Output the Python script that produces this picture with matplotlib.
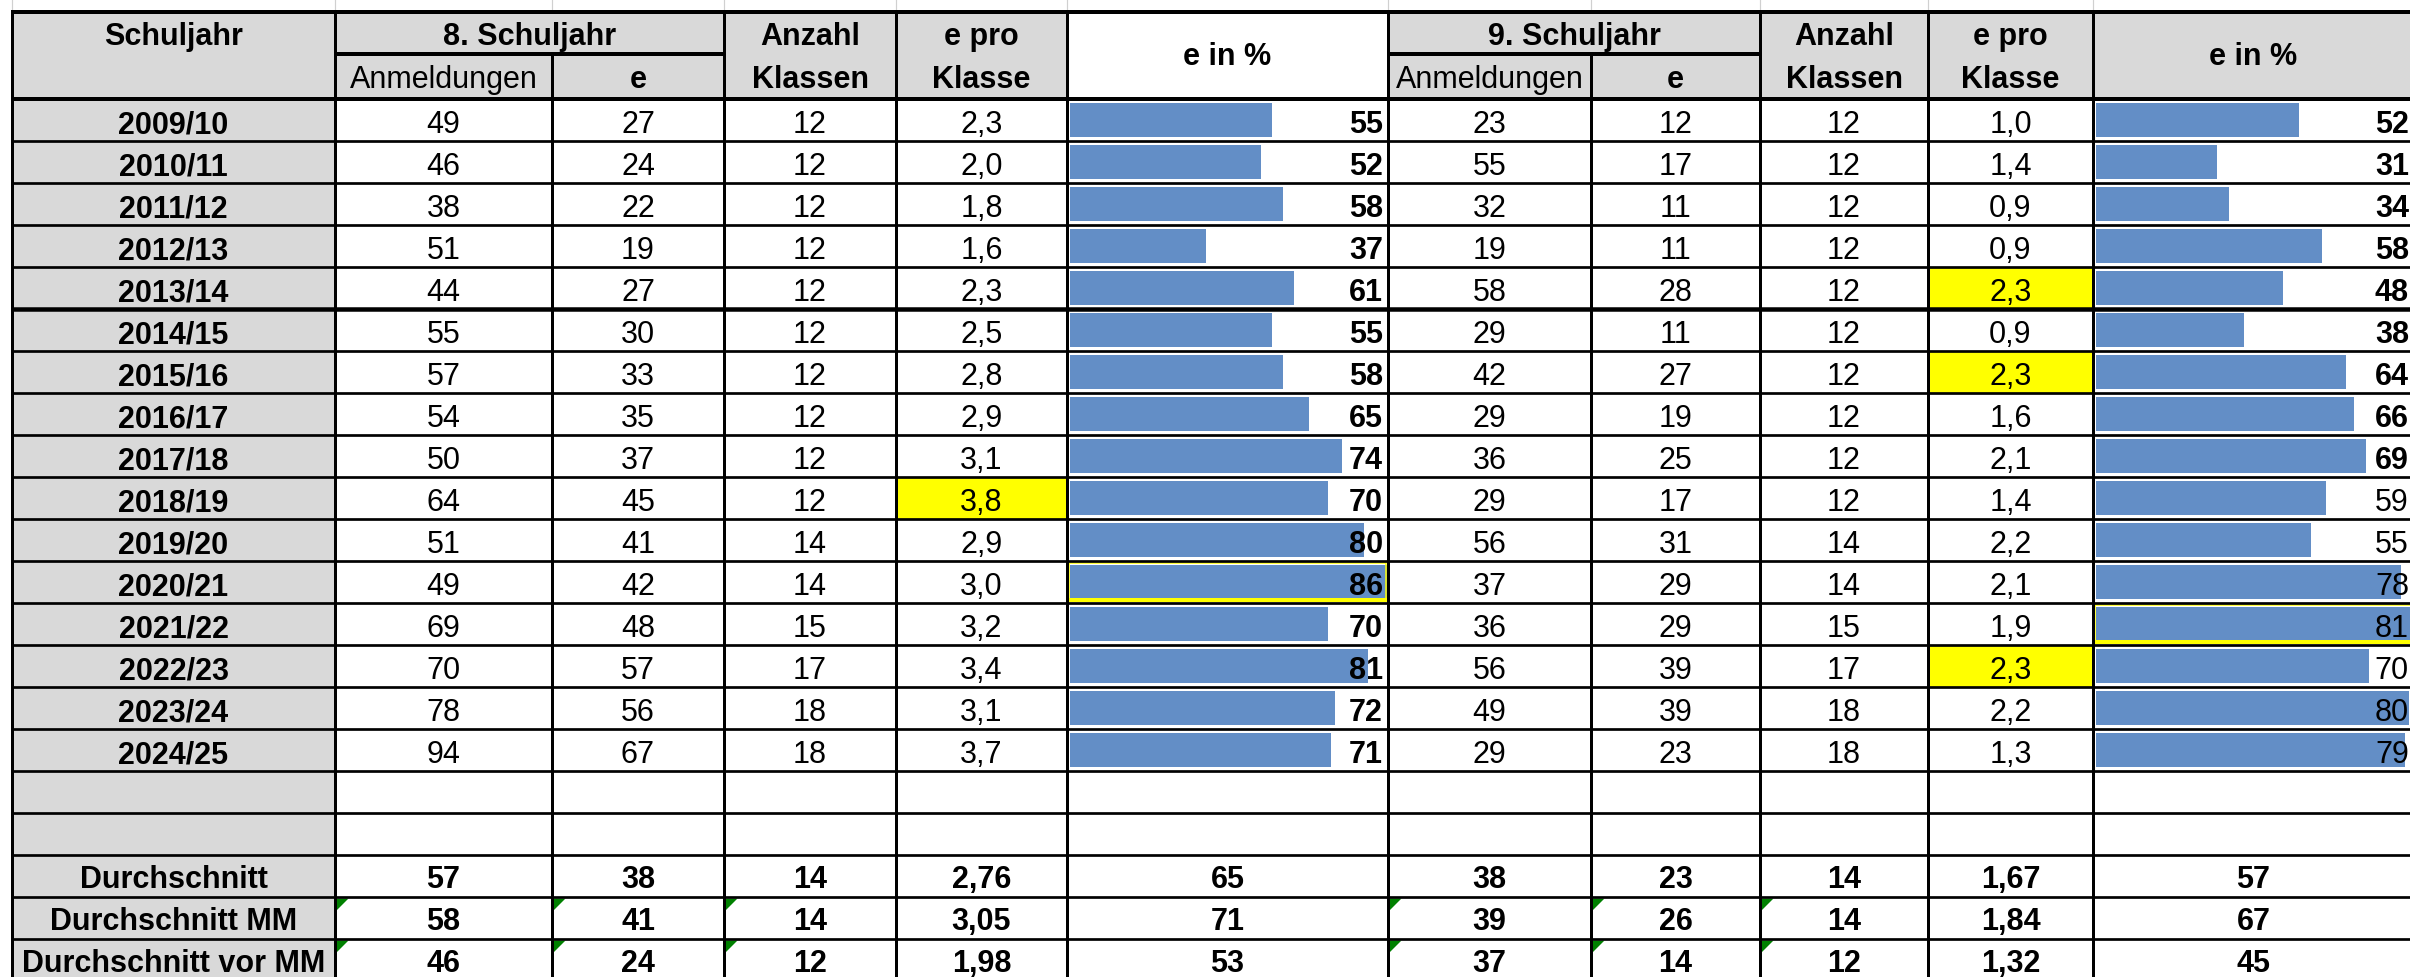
import matplotlib
matplotlib.use("Agg")
import matplotlib.pyplot as plt
from matplotlib.patches import Rectangle, Polygon

plt.rcParams['font.family'] = ['Liberation Sans', 'DejaVu Sans']

# ---------------- data ----------------
years = ['2009/10', '2010/11', '2011/12', '2012/13', '2013/14', '2014/15', '2015/16',
         '2016/17', '2017/18', '2018/19', '2019/20', '2020/21', '2021/22', '2022/23',
         '2023/24', '2024/25']
anm8 = [49, 46, 38, 51, 44, 55, 57, 54, 50, 64, 51, 49, 69, 70, 78, 94]
e8 = [27, 24, 22, 19, 27, 30, 33, 35, 37, 45, 41, 42, 48, 57, 56, 67]
kl8 = [12, 12, 12, 12, 12, 12, 12, 12, 12, 12, 14, 14, 15, 17, 18, 18]
epk8 = [2.3, 2.0, 1.8, 1.6, 2.3, 2.5, 2.8, 2.9, 3.1, 3.8, 2.9, 3.0, 3.2, 3.4, 3.1, 3.7]
pct8 = [55, 52, 58, 37, 61, 55, 58, 65, 74, 70, 80, 86, 70, 81, 72, 71]

anm9 = [23, 55, 32, 19, 58, 29, 42, 29, 36, 29, 56, 37, 36, 56, 49, 29]
e9 = [12, 17, 11, 11, 28, 11, 27, 19, 25, 17, 31, 29, 29, 39, 39, 23]
kl9 = [12, 12, 12, 12, 12, 12, 12, 12, 12, 12, 14, 14, 15, 17, 18, 18]
epk9 = [1.0, 1.4, 0.9, 0.9, 2.3, 0.9, 2.3, 1.6, 2.1, 1.4, 2.2, 2.1, 1.9, 2.3, 2.2, 1.3]
pct9 = [52, 31, 34, 58, 48, 38, 64, 66, 69, 59, 55, 78, 81, 70, 80, 79]

sum_labels = ['Durchschnitt', 'Durchschnitt MM', 'Durchschnitt vor MM']
sum_anm8 = [57, 58, 46]
sum_e8 = [38, 41, 24]
sum_kl8 = [14, 14, 12]
sum_epk8 = ['2,76', '3,05', '1,98']
sum_pct8 = [65, 71, 53]
sum_anm9 = [38, 39, 37]
sum_e9 = [23, 26, 14]
sum_kl9 = [14, 14, 12]
sum_epk9 = ['1,67', '1,84', '1,32']
sum_pct9 = [57, 67, 45]

yellow8 = [9]
yellow9 = [4, 6, 13]
outline8 = [11]
outline9 = [12]
bold_pct9 = [True] * 9 + [False] * 7

# ---------------- layout ----------------
W, H = 2410, 978
xe = [12, 335, 552, 724, 896, 1067, 1388, 1591, 1760, 1928, 2093, 2414]
y_top, y_mid, y0, rh = 13, 55, 100, 42
n_data = len(years)
n_rows = n_data + 2 + len(sum_labels)
GRAY = '#D9D9D9'
BAR = '#638EC6'
FS = 22

def row_top(k):
    return y0 + k * rh

fig = plt.figure(figsize=(W / 100, H / 100), dpi=100)
fig.patch.set_facecolor('white')

def px_axes(x0, x1, ya, yb, z):
    a = fig.add_axes([x0 / W, 1 - yb / H, (x1 - x0) / W, (yb - ya) / H])
    a.set_zorder(z)
    a.patch.set_alpha(0)
    return a

# background fills
bg = px_axes(0, W, 0, H, 0)
bg.set_xlim(0, W); bg.set_ylim(H, 0); bg.axis('off')

def fill(x0, x1, ya, yb, c):
    bg.add_patch(Rectangle((x0, ya), x1 - x0, yb - ya, facecolor=c, edgecolor='none'))

# header fills
for g in (0, 5):
    fill(xe[1 + g], xe[5 + g], y_top, y0, GRAY)
fill(xe[0], xe[1], y_top, y0, GRAY)
fill(xe[10], xe[11], y_top, y0, GRAY)
# row label column
fill(xe[0], xe[1], y0, row_top(n_rows) + 5, GRAY)
# yellow cells
for i in yellow8:
    fill(xe[4], xe[5], row_top(i), row_top(i + 1), '#FFFF00')
for i in yellow9:
    fill(xe[9], xe[10], row_top(i), row_top(i + 1), '#FFFF00')

# data bars in their own axes
for vals, xl in ((pct8, xe[5]), (pct9, xe[10])):
    ba = px_axes(xl + 2.5, xl + 2.5 + 317, y0, row_top(n_data), 1)
    ba.barh(range(len(vals)), vals, height=0.81, color=BAR)
    ba.set_xlim(0, max(vals))
    ba.set_ylim(len(vals) - 0.5, -0.5)
    ba.axis('off')

# top layer: lines + text
top = px_axes(0, W, 0, H, 2)
top.set_xlim(0, W); top.set_ylim(H, 0); top.axis('off')

def hl(y, x0, x1, w, c='black'):
    top.plot([x0, x1], [y, y], color=c, lw=w * 0.72, solid_capstyle='butt')

def vl(x, ya, yb, w, c='black'):
    top.plot([x, x], [ya, yb], color=c, lw=w * 0.72, solid_capstyle='butt')

ybot = row_top(n_rows) + 5
# faint gridlines above table
for x in xe:
    vl(x, 0, y_top, 1.2, '#D0D0D0')
# horizontal lines
hl(y_top, xe[0] - 1.5, xe[-1], 4)
for g in (0, 5):
    hl(y_mid, xe[1 + g], xe[3 + g], 4)
hl(y0, xe[0] - 1.5, xe[-1], 4)
for k in range(1, n_rows):
    hl(row_top(k), xe[0] - 1.5, xe[-1], 4.5 if k == 5 else 2.7)
# vertical lines
for j, x in enumerate(xe[:-1]):
    ya = y_mid if j in (2, 7) else y_top
    vl(x, ya, ybot, 3)

# yellow outlines
for i, xl, xr in [(k, xe[5], xe[6]) for k in outline8] + [(k, xe[10], xe[11]) for k in outline9]:
    t, b = row_top(i), row_top(i + 1)
    top.add_patch(Rectangle((xl + 2, t + 2), xr - xl - 4, b - t - 4, fill=False,
                            edgecolor='#FFFF00', lw=1.5 * 0.72))
    hl(b - 3, xl + 1.5, xr - 1.5, 4, '#FFFF00')

def txt(x, y, s, bold=False, ha='center'):
    top.text(x, y, s, ha=ha, va='baseline', fontsize=FS,
             fontweight='bold' if bold else 'normal', color='black', clip_on=True)

def cx(j):
    return (xe[j] + xe[j + 1]) / 2

# header text
txt(cx(0), 45, 'Schuljahr', True)
for g, lab in ((0, '8. Schuljahr'), (5, '9. Schuljahr')):
    txt((xe[1 + g] + xe[3 + g]) / 2, 45, lab, True)
    txt(cx(1 + g), 88, 'Anmeldungen')
    txt(cx(2 + g), 88, 'e', True)
    txt(cx(3 + g), 45, 'Anzahl', True)
    txt(cx(3 + g), 88, 'Klassen', True)
    txt(cx(4 + g), 45, 'e pro', True)
    txt(cx(4 + g), 88, 'Klasse', True)
    txt(cx(5 + g), 65, 'e in %', True)

def fmt1(v):
    return f'{v:.1f}'.replace('.', ',')

# data rows
for i, yr in enumerate(years):
    yb = row_top(i) + 33
    txt(cx(0), yb, yr, True)
    txt(cx(1), yb, str(anm8[i]))
    txt(cx(2), yb, str(e8[i]))
    txt(cx(3), yb, str(kl8[i]))
    txt(cx(4), yb, fmt1(epk8[i]))
    txt(xe[6] - 5, yb, str(pct8[i]), True, ha='right')
    txt(cx(6), yb, str(anm9[i]))
    txt(cx(7), yb, str(e9[i]))
    txt(cx(8), yb, str(kl9[i]))
    txt(cx(9), yb, fmt1(epk9[i]))
    txt(W - 1, yb, str(pct9[i]), bold_pct9[i], ha='right')

# summary rows
for r, lab in enumerate(sum_labels):
    k = n_data + 2 + r
    yb = row_top(k) + 32
    txt(cx(0), yb, lab, True)
    vals = [sum_anm8[r], sum_e8[r], sum_kl8[r], sum_epk8[r], sum_pct8[r],
            sum_anm9[r], sum_e9[r], sum_kl9[r], sum_epk9[r], sum_pct9[r]]
    for j, v in enumerate(vals):
        txt(cx(j + 1), yb, str(v), True)
    if r > 0:
        for j in (1, 2, 3, 6, 7, 8):
            x, y = xe[j] + 1.5, row_top(k) + 1.5
            top.add_patch(Polygon([(x, y), (x + 12, y), (x, y + 12)], closed=True,
                                  facecolor='#008000', edgecolor='none'))

fig.savefig('out.png', dpi=100, facecolor='white')
